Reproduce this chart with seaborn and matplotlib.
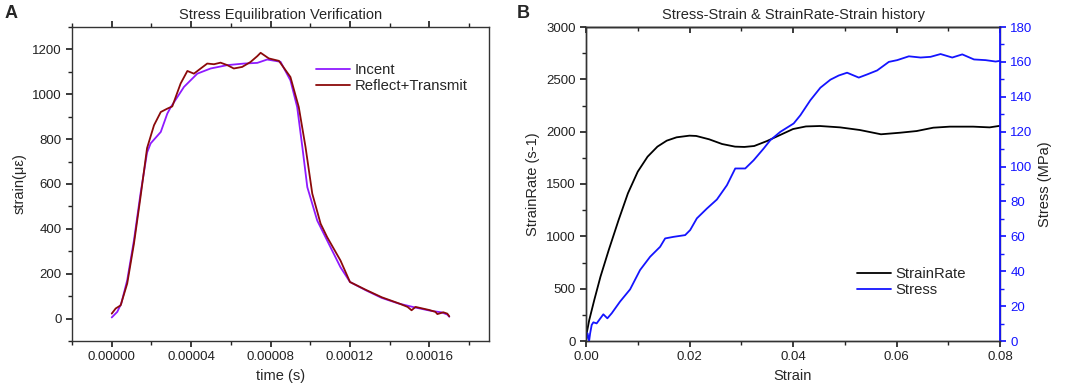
import numpy as np
import pandas as pd
import matplotlib
matplotlib.use("Agg")
import matplotlib.pyplot as plt
from matplotlib.ticker import MultipleLocator, FormatStrFormatter, NullFormatter
from matplotlib.lines import Line2D
import seaborn as sns

# ---------------- Panel A data ----------------
incent_t = [0, 2.8e-6, 4.8e-6, 7.8e-6, 11.2e-6, 14.5e-6, 17.8e-6, 19.6e-6, 24.7e-6, 28.0e-6,
            29.7e-6, 36.4e-6, 43.1e-6, 49.8e-6, 58.2e-6, 66.6e-6, 73.3e-6, 78.3e-6, 85.0e-6,
            90.0e-6, 93.4e-6, 96.0e-6, 98.5e-6, 103.5e-6, 108.5e-6, 115.2e-6, 120e-6, 128e-6,
            136e-6, 144.5e-6, 153e-6, 161e-6, 166e-6, 169e-6, 170e-6]
incent_v = [5, 30, 67, 171, 349, 557, 740, 781, 832, 914,
            942, 1033, 1092, 1115, 1130, 1137, 1140, 1155, 1145,
            1062, 943, 765, 586, 437, 348, 229, 163, 126,
            92, 67, 49, 34, 28, 18, 8]

reflect_t = [0, 2e-6, 4.5e-6, 7.8e-6, 11.2e-6, 14.5e-6, 17.8e-6, 21.3e-6, 24.7e-6, 28.0e-6,
             30.5e-6, 34.7e-6, 38.1e-6, 41.4e-6, 44.8e-6, 48.1e-6, 51.5e-6, 54.8e-6, 58.2e-6,
             61.5e-6, 65.7e-6, 69.9e-6, 73.3e-6, 75.0e-6, 79.1e-6, 84.2e-6, 90.0e-6, 94.2e-6,
             97.6e-6, 101e-6, 105.2e-6, 108.5e-6, 115.2e-6, 120e-6, 128e-6, 136e-6, 144.5e-6,
             149e-6, 151e-6, 153e-6, 160e-6, 163e-6, 164e-6, 167e-6, 169e-6, 170e-6]
reflect_v = [22, 45, 59, 156, 334, 542, 760, 862, 921, 936,
             946, 1048, 1104, 1092, 1115, 1137, 1134, 1141, 1130,
             1115, 1122, 1144, 1170, 1185, 1160, 1149, 1077, 943,
             765, 557, 423, 363, 259, 163, 128, 95, 68,
             52, 37, 52, 38, 30, 20, 28, 22, 10]

# ---------------- Panel B data ----------------
rate_strain = [0, 0.000125, 0.000625, 0.0016, 0.0028, 0.0044, 0.0063, 0.0081, 0.0100, 0.0119,
               0.0138, 0.0156, 0.0175, 0.0200, 0.0213, 0.0238, 0.0263, 0.0288, 0.0306, 0.0325,
               0.0350, 0.0375, 0.0400, 0.0425, 0.0452, 0.0491, 0.0529, 0.0555, 0.0570, 0.0607,
               0.0639, 0.0671, 0.0703, 0.0748, 0.0780, 0.0800]
rate_value = [10, 73, 200, 392, 615, 870, 1156, 1411, 1618, 1761,
              1857, 1914, 1946, 1962, 1959, 1927, 1882, 1857, 1854, 1863,
              1911, 1968, 2025, 2050, 2054, 2041, 2016, 1990, 1975, 1990,
              2006, 2038, 2048, 2048, 2041, 2056]

stress_strain = [0, 0.0003, 0.0006, 0.0008, 0.0011, 0.00142, 0.00206, 0.00335, 0.00413, 0.00497,
                 0.00658, 0.00852, 0.01045, 0.01239, 0.01432, 0.01529, 0.0169, 0.01916, 0.02013,
                 0.02142, 0.02335, 0.02529, 0.02723, 0.02884, 0.03077, 0.03239, 0.03432, 0.03561,
                 0.03755, 0.04013, 0.04142, 0.04335, 0.04529, 0.04723, 0.04884, 0.05045, 0.05271,
                 0.05432, 0.05626, 0.05852, 0.06013, 0.06239, 0.06465, 0.06658, 0.06852, 0.07077,
                 0.07271, 0.07497, 0.07723, 0.07916, 0.0800]
stress_value = [0, 4.4, 0, 4.4, 9.2, 10.7, 10.1, 15.3, 13.0, 15.9,
                22.6, 29.6, 40.7, 48.3, 54.0, 58.8, 59.7, 60.7, 63.6,
                70.3, 75.9, 81.1, 89.3, 98.9, 98.9, 103.6, 110.3, 115.1,
                119.9, 124.7, 129.4, 138.0, 145.2, 149.8, 152.2, 153.8, 151.0,
                152.8, 155.1, 160.0, 161.0, 163.2, 162.5, 162.9, 164.5, 162.5,
                164.3, 161.4, 161.0, 160.2, 160.6]

# ---------------- styling ----------------
sns.set_theme(style="ticks")
plt.rcParams['font.family'] = ['Liberation Sans', 'DejaVu Sans']
plt.rcParams['axes.linewidth'] = 1.0

fig = plt.figure(figsize=(10.65, 3.9), dpi=100)
axA = fig.add_axes([72/1065, 1-341/390, 417/1065, 314/390])
axB = fig.add_axes([586/1065, 1-341/390, 414/1065, 314/390])

purple = "#8F1AFF"
darkred = "#8B0A0A"
blue = "#1414FF"
tick_fs = 9.5
label_fs = 10.5

# ---------------- Panel A ----------------
dfA1 = pd.DataFrame({"t": incent_t, "v": incent_v})
dfA2 = pd.DataFrame({"t": reflect_t, "v": reflect_v})
sns.lineplot(data=dfA1, x="t", y="v", ax=axA, color=purple, lw=1.3, sort=False, label="Incent")
sns.lineplot(data=dfA2, x="t", y="v", ax=axA, color=darkred, lw=1.3, sort=False, label="Reflect+Transmit")
axA.set_xlim(-0.00002, 0.00019)
axA.set_ylim(-100, 1300)
axA.xaxis.set_major_locator(MultipleLocator(0.00004))
axA.xaxis.set_minor_locator(MultipleLocator(0.00002))
axA.xaxis.set_major_formatter(FormatStrFormatter('%.5f'))
axA.yaxis.set_major_locator(MultipleLocator(200))
axA.yaxis.set_minor_locator(MultipleLocator(100))
axA.set_xticks([0, 0.00004, 0.00008, 0.00012, 0.00016])
axA.tick_params(axis='both', which='both', direction='out', labelsize=tick_fs, colors='#222222')
axA.tick_params(axis='x', which='both', top=True, labeltop=False)
axA.tick_params(which='major', length=4)
axA.tick_params(which='minor', length=3)
for s in axA.spines.values():
    s.set_visible(True)
    s.set_color('#333333')
axA.set_xlabel("time (s)", fontsize=label_fs)
axA.set_ylabel("strain(με)", fontsize=label_fs)
axA.set_title("Stress Equilibration Verification", fontsize=10.5, pad=6)
axA.legend(loc='upper left', bbox_to_anchor=(0.57, 0.905), frameon=False, fontsize=10.7,
           handlelength=2.3, handletextpad=0.3, labelspacing=0.15, borderaxespad=0)

# ---------------- Panel B ----------------
dfB1 = pd.DataFrame({"s": rate_strain, "r": rate_value})
dfB2 = pd.DataFrame({"s": stress_strain, "p": stress_value})
sns.lineplot(data=dfB1, x="s", y="r", ax=axB, color="black", lw=1.3, sort=False, legend=False)
axB2 = axB.twinx()
sns.lineplot(data=dfB2, x="s", y="p", ax=axB2, color=blue, lw=1.3, sort=False, legend=False)
axB.set_xlim(0, 0.08)
axB.set_ylim(0, 3000)
axB2.set_ylim(0, 180)
axB.xaxis.set_major_locator(MultipleLocator(0.02))
axB.xaxis.set_minor_locator(MultipleLocator(0.01))
axB.xaxis.set_major_formatter(FormatStrFormatter('%.2f'))
axB.yaxis.set_major_locator(MultipleLocator(500))
axB.yaxis.set_minor_locator(MultipleLocator(250))
axB2.yaxis.set_major_locator(MultipleLocator(20))
axB2.yaxis.set_minor_locator(MultipleLocator(10))
axB.tick_params(axis='both', which='both', direction='out', labelsize=tick_fs, colors='#222222')
axB.tick_params(which='major', length=4)
axB.tick_params(which='minor', length=3)
# top ticks pointing inward
topB = axB.secondary_xaxis('top')
topB.xaxis.set_major_locator(MultipleLocator(0.02))
topB.xaxis.set_minor_locator(MultipleLocator(0.01))
topB.xaxis.set_major_formatter(NullFormatter())
topB.tick_params(axis='x', which='both', direction='in', colors='#222222')
topB.tick_params(which='major', length=4)
topB.tick_params(which='minor', length=3)
topB.spines['top'].set_color('#333333')
axB2.tick_params(axis='y', which='both', direction='out', labelsize=tick_fs, colors=blue)
axB2.tick_params(which='major', length=4)
axB2.tick_params(which='minor', length=3)
for s in axB.spines.values():
    s.set_visible(True)
    s.set_color('#333333')
for s in axB2.spines.values():
    s.set_visible(True)
    s.set_color('#333333')
axB2.spines['right'].set_color(blue)
axB2.spines['right'].set_linewidth(1.3)
axB.set_xlabel("Strain", fontsize=label_fs)
axB.set_ylabel("StrainRate (s-1)", fontsize=label_fs)
axB2.set_ylabel("Stress (MPa)", fontsize=label_fs, color="#222222")
axB.set_title("Stress-Strain & StrainRate-Strain history", fontsize=10.5, pad=6)
handles = [Line2D([], [], color="black", lw=1.3), Line2D([], [], color=blue, lw=1.3)]
axB2.legend(handles, ["StrainRate", "Stress"], loc='upper left', bbox_to_anchor=(0.64, 0.255),
            frameon=False, fontsize=10.7, handlelength=2.3, handletextpad=0.3, labelspacing=0.15,
            borderaxespad=0)

fig.text(5/1065, 1-14/390, "A", fontsize=13, fontweight='bold', va='center', ha='left')
fig.text(517/1065, 1-14/390, "B", fontsize=13, fontweight='bold', va='center', ha='left')

fig.savefig("out.png", dpi=100)
